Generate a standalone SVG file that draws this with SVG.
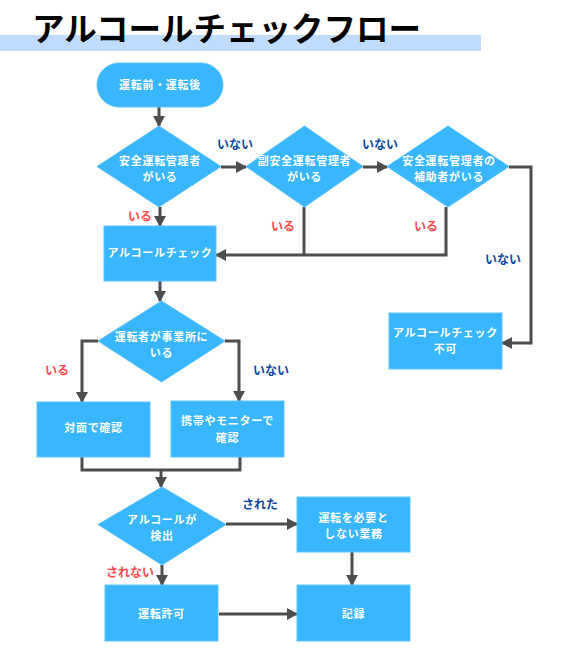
<svg xmlns="http://www.w3.org/2000/svg" width="567" height="649" viewBox="0 0 567 649">
<defs>
<marker id="ah" markerUnits="userSpaceOnUse" markerWidth="11" markerHeight="12" refX="10" refY="6" orient="auto">
<path d="M0,0 L11,6 L0,12 z" fill="#4d4d4d"/>
</marker>
<style>
.n{fill:#38b6ff;stroke:#5cc3ff;stroke-width:1}
.t{font-family:"Noto Sans CJK JP","Noto Sans",sans-serif;font-weight:700;font-size:11px;letter-spacing:0.7px;fill:#ffffff;text-anchor:middle}
.c{fill:none;stroke:#4d4d4d;stroke-width:3}
.a{marker-end:url(#ah)}
.lr{font-family:"Noto Sans CJK JP","Noto Sans",sans-serif;font-weight:700;font-size:12px;fill:#ff4b4b}
.lb{font-family:"Noto Sans CJK JP","Noto Sans",sans-serif;font-weight:700;font-size:12px;fill:#0d47a1}
</style>
</defs>
<rect width="567" height="649" fill="#ffffff"/>
<g id="title">
<rect x="0" y="35" width="481" height="16" fill="#bfdcff"/>
<text x="32" y="41" font-family="'Noto Sans CJK JP',sans-serif" font-weight="700" font-size="32.5" fill="#000">アルコールチェックフロー</text>
</g>
<g id="connectors">
<line class="c a" x1="159" y1="107" x2="159" y2="126"/>
<line class="c a" x1="221" y1="167" x2="246" y2="167"/>
<line class="c a" x1="363" y1="167" x2="387" y2="167"/>
<polyline class="c a" points="509,167 531,167 531,343 502,343"/>
<line class="c a" x1="160" y1="207" x2="160" y2="226"/>
<polyline class="c" points="304,207 304,255"/>
<polyline class="c a" points="446,207 446,255 216,255"/>
<line class="c a" x1="160" y1="281" x2="160" y2="301"/>
<polyline class="c a" points="98,341 82,341 82,402"/>
<polyline class="c a" points="225,341 239,341 239,401"/>
<polyline class="c" points="82,457 82,470 240,470 240,457"/>
<line class="c a" x1="161" y1="470" x2="161" y2="487"/>
<line class="c a" x1="226" y1="524" x2="297" y2="524"/>
<line class="c a" x1="162" y1="565" x2="162" y2="585"/>
<line class="c a" x1="352" y1="552" x2="352" y2="585"/>
<line class="c a" x1="219" y1="614" x2="297" y2="614"/>
</g>
<g id="labels">
<text class="lb" x="217" y="149">いない</text>
<text class="lb" x="362" y="149">いない</text>
<text class="lr" x="128" y="221">いる</text>
<text class="lr" x="271" y="231">いる</text>
<text class="lr" x="414" y="231">いる</text>
<text class="lb" x="485" y="264">いない</text>
<text class="lr" x="45" y="375">いる</text>
<text class="lb" x="253" y="375">いない</text>
<text class="lb" x="242" y="509">された</text>
<text class="lr" x="106" y="577">されない</text>
</g>
<g id="start">
<rect class="n" x="97" y="63" width="126" height="44" rx="22"/>
<text class="t" x="160" y="89">運転前・運転後</text>
</g>
<g id="d1">
<polygon class="n" points="159,126 221,166.5 159,207 97,166.5"/>
<text class="t" x="160" y="165">安全運転管理者</text>
<text class="t" x="160" y="181">がいる</text>
</g>
<g id="d2">
<polygon class="n" points="304.5,126 363,166.5 304.5,207 246,166.5"/>
<text class="t" x="304.5" y="165">副安全運転管理者</text>
<text class="t" x="304.5" y="181">がいる</text>
</g>
<g id="d3">
<polygon class="n" points="448,126 509,166.5 448,207 387,166.5"/>
<text class="t" x="449" y="165">安全運転管理者の</text>
<text class="t" x="449" y="181">補助者がいる</text>
</g>
<g id="alcohol-check">
<rect class="n" x="104" y="226" width="112" height="55"/>
<text class="t" x="160" y="257">アルコールチェック</text>
</g>
<g id="not-possible">
<rect class="n" x="389" y="313" width="113" height="56"/>
<text class="t" x="445.5" y="336.5">アルコールチェック</text>
<text class="t" x="445.5" y="352.5">不可</text>
</g>
<g id="d4">
<polygon class="n" points="161.5,301 225,341 161.5,382 98,341"/>
<text class="t" x="161.5" y="340.5">運転者が事業所に</text>
<text class="t" x="161.5" y="356.5">いる</text>
</g>
<g id="face">
<rect class="n" x="37" y="402" width="113" height="55"/>
<text class="t" x="93.5" y="432">対面で確認</text>
</g>
<g id="remote">
<rect class="n" x="171" y="401" width="113" height="56"/>
<text class="t" x="227.5" y="425">携帯やモニターで</text>
<text class="t" x="227.5" y="442">確認</text>
</g>
<g id="d5">
<polygon class="n" points="162,487 226,524.5 162,565 98,524.5"/>
<text class="t" x="162" y="524">アルコールが</text>
<text class="t" x="162" y="540">検出</text>
</g>
<g id="other-work">
<rect class="n" x="297" y="497" width="113" height="55"/>
<text class="t" x="353.5" y="522">運転を必要と</text>
<text class="t" x="353.5" y="538">しない業務</text>
</g>
<g id="permit">
<rect class="n" x="105" y="585" width="113" height="56"/>
<text class="t" x="161.5" y="618">運転許可</text>
</g>
<g id="record">
<rect class="n" x="297" y="585" width="113" height="56"/>
<text class="t" x="353.5" y="618">記録</text>
</g>
</svg>
